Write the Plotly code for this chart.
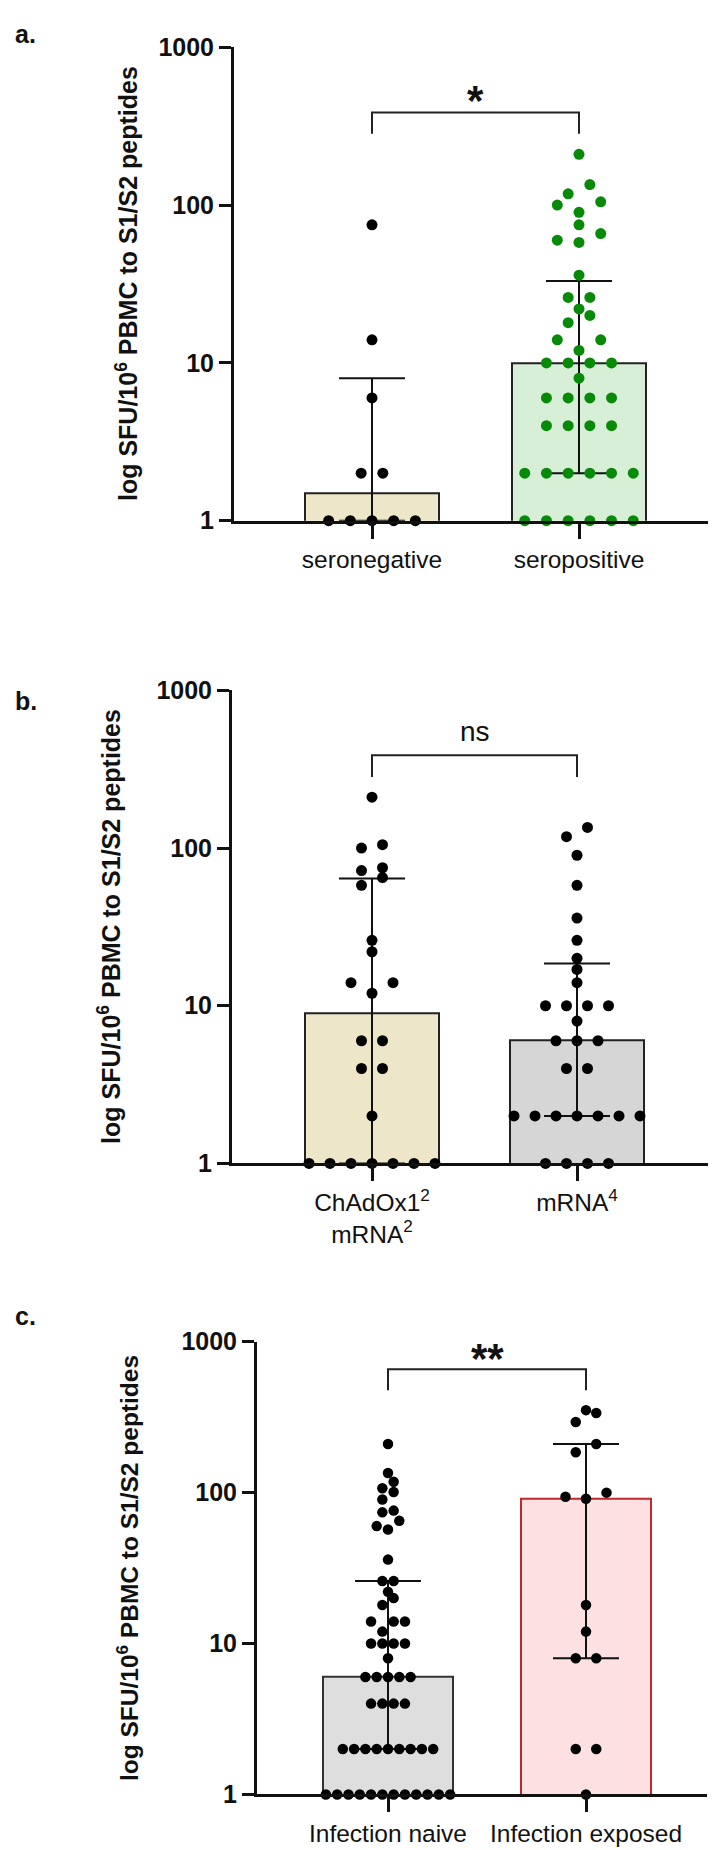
import numpy as np
import plotly.graph_objects as go

# ---------------- data ----------------
# Panel a
a_categories = ["seronegative", "seropositive"]
a_seronegative = [1, 1, 1, 1, 1, 2, 2, 6, 14, 75]
a_seropositive = [1, 1, 1, 1, 1, 1, 2, 2, 2, 2, 2, 2, 4, 4, 4, 4, 6, 6, 6, 6, 8,
                  10, 10, 10, 10, 12, 14, 14, 18, 20, 22, 26, 26, 36, 58, 60, 66,
                  75, 90, 100, 105, 118, 135, 210]
a_median = [1.5, 10]
a_q1 = [1, 2]
a_q3 = [8, 33]

# Panel b
b_categories = ["ChAdOx1<sup>2</sup><br>mRNA<sup>2</sup>", "mRNA<sup>4</sup>"]
b_chadox_mrna = [1, 1, 1, 1, 1, 1, 1, 2, 4, 4, 6, 6, 12, 14, 14, 22, 26, 58, 65,
                 72, 75, 100, 105, 210]
b_mrna4 = [1, 1, 1, 1, 2, 2, 2, 2, 2, 2, 2, 4, 4, 6, 6, 6, 8, 10, 10, 10, 10, 14,
           17, 20, 26, 36, 58, 90, 118, 135]
b_median = [9, 6]
b_q1 = [1, 2]
b_q3 = [64, 18.5]

# Panel c
c_categories = ["Infection naive", "Infection exposed"]
c_naive = [1, 1, 1, 1, 1, 1, 1, 1, 1, 1, 1, 1, 2, 2, 2, 2, 2, 2, 2, 2, 2, 4, 4, 4,
           4, 6, 6, 6, 6, 6, 8, 10, 10, 10, 10, 12, 14, 14, 14, 18, 20, 22, 26, 26,
           36, 57, 60, 65, 74, 76, 90, 101, 107, 118, 135, 210]
c_exposed = [1, 2, 2, 8, 8, 12, 18, 91, 94, 100, 185, 210, 294, 337, 352]
c_median = [6, 91]
c_q1 = [2, 8]
c_q3 = [26, 210]

significance = ["*", "ns", "**"]

# ---------------- layout constants ----------------
W, H = 716, 1850
FONT = "Arial, Liberation Sans, sans-serif"

panels = [
    dict(label="a.", cats=a_categories, groups=[a_seronegative, a_seropositive],
         med=a_median, q1=a_q1, q3=a_q3,
         fill=["#EDE6C8", "#D7EED7"], edge=["#222222", "#222222"],
         dot=["#000000", "#078A07"], dotsize=11, spacing=[21.7, 21.7],
         xpx=(226, 710), ypx=(25.7, 506.4), catpx=(364, 571),
         br_top=386, br_leg=283, sig_y=2.66, sig_size=42, sig_bold=True,
         title_x=119, label_y=12),
    dict(label="b.", cats=b_categories, groups=[b_chadox_mrna, b_mrna4],
         med=b_median, q1=b_q1, q3=b_q3,
         fill=["#EDE6C8", "#D6D6D6"], edge=["#222222", "#222222"],
         dot=["#000000", "#000000"], dotsize=11, spacing=[21.0, 21.0],
         xpx=(224, 708), ypx=(678.6, 1159.0), catpx=(364, 569),
         br_top=387, br_leg=282, sig_y=2.742, sig_size=28, sig_bold=False,
         title_x=101, label_y=689),
    dict(label="c.", cats=c_categories, groups=[c_naive, c_exposed],
         med=c_median, q1=c_q1, q3=c_q3,
         fill=["#DEDEDE", "#FDE0E2"], edge=["#333333", "#C0282D"],
         dot=["#000000", "#000000"], dotsize=10.5, spacing=[11.3, 20.5],
         xpx=(249, 699), ypx=(1340.0, 1799.7), catpx=(380, 578),
         br_top=658, br_leg=477, sig_y=2.89, sig_size=42, sig_bold=True,
         title_x=119, label_y=1314),
]


def swarm_offsets(values, px_per_decade, spacing_px, bin_px):
    """Beeswarm: points whose pixel heights fall in the same bin share a row."""
    v = np.asarray(values, float)
    order = np.argsort(v, kind="stable")
    ypix = np.log10(v) * px_per_decade
    offs = np.zeros(len(v))
    i, n = 0, len(v)
    while i < n:
        start = ypix[order[i]]
        j = i
        while j < n and ypix[order[j]] < start + bin_px - 1e-9:
            j += 1
        k = j - i
        slots = [(m - (k - 1) / 2) * spacing_px for m in range(k)]
        slots.sort(key=lambda s: (abs(s), s))
        for slot, idx in zip(slots, order[i:j]):
            offs[idx] = slot
        i = j
    return offs


fig = go.Figure()
annotations = []

for p_i, p in enumerate(panels):
    sfx = "" if p_i == 0 else str(p_i + 1)
    xa, ya = "x" + sfx, "y" + sfx
    unit = p["catpx"][1] - p["catpx"][0]
    xr = [(p["xpx"][0] - p["catpx"][0]) / unit, (p["xpx"][1] - p["catpx"][0]) / unit]
    px_dec = (p["ypx"][1] - p["ypx"][0]) / 3.0

    med = np.array(p["med"], float)
    q1 = np.array(p["q1"], float)
    q3 = np.array(p["q3"], float)

    fig.add_trace(go.Bar(
        x=[0, 1], y=med, width=0.652, xaxis=xa, yaxis=ya,
        marker=dict(color=p["fill"], line=dict(color=p["edge"], width=2)),
        error_y=dict(type="data", symmetric=False, array=q3 - med,
                     arrayminus=med - q1, color="#111111", thickness=2, width=33),
        hoverinfo="skip", showlegend=False))

    for g_i, vals in enumerate(p["groups"]):
        offs = swarm_offsets(vals, px_dec, p["spacing"][g_i], p["dotsize"])
        fig.add_trace(go.Scatter(
            x=g_i + offs / unit, y=vals, mode="markers", xaxis=xa, yaxis=ya,
            marker=dict(color=p["dot"][g_i], size=p["dotsize"], line=dict(width=0)),
            cliponaxis=False, showlegend=False, hoverinfo="skip"))

    # significance bracket
    fig.add_trace(go.Scatter(
        x=[0, 0, 1, 1], y=[p["br_leg"], p["br_top"], p["br_top"], p["br_leg"]],
        mode="lines", xaxis=xa, yaxis=ya, line=dict(color="#222222", width=2),
        cliponaxis=False, showlegend=False, hoverinfo="skip"))
    annotations.append(dict(
        x=0.5, y=p["sig_y"], xref=xa, yref=ya, text=significance[p_i],
        showarrow=False, xanchor="center", yanchor="middle",
        font=dict(family=FONT, size=p["sig_size"], color="#111111",
                  weight="bold" if p["sig_bold"] else "normal")))

    # y axis title
    ymid = 1 - (p["ypx"][0] + p["ypx"][1]) / 2 / H
    annotations.append(dict(
        x=p["title_x"] / W, y=ymid, xref="paper", yref="paper",
        text="log SFU/10<sup>6</sup> PBMC to S1/S2 peptides", textangle=-90,
        showarrow=False, xanchor="center", yanchor="middle",
        font=dict(family=FONT, size=25 if p_i < 2 else 24.5, color="#111111",
                  weight="bold")))
    # panel label
    annotations.append(dict(
        x=5 / W, y=1 - p["label_y"] / H, xref="paper", yref="paper",
        text=p["label"], showarrow=False, xanchor="left", yanchor="middle",
        font=dict(family=FONT, size=25, color="#111111", weight="bold")))

    fig.update_layout(**{
        "xaxis" + sfx: dict(
            domain=[p["xpx"][0] / W, p["xpx"][1] / W], anchor=ya,
            range=xr, tickvals=[0, 1], ticktext=p["cats"],
            showline=True, linewidth=3, linecolor="#111111",
            ticks="outside", ticklen=15, tickwidth=3, tickcolor="#111111",
            showgrid=False, zeroline=False, fixedrange=True,
            tickfont=dict(family=FONT, size=24.5, color="#111111")),
        "yaxis" + sfx: dict(
            domain=[1 - p["ypx"][1] / H, 1 - p["ypx"][0] / H], anchor=xa,
            type="log", range=[0, 3], tickvals=[1, 10, 100, 1000],
            ticktext=["1", "10", "100", "1000"],
            showline=True, linewidth=3, linecolor="#111111",
            ticks="outside", ticklen=12, tickwidth=3, tickcolor="#111111",
            showgrid=False, zeroline=False, fixedrange=True,
            tickfont=dict(family=FONT, size=25, color="#111111", weight="bold")),
    })

fig.update_layout(
    width=W, height=H, margin=dict(l=0, r=0, t=0, b=0),
    paper_bgcolor="white", plot_bgcolor="white",
    showlegend=False, annotations=annotations, bargap=0,
    font=dict(family=FONT, color="#111111"),
)

fig.write_html("out.html")
